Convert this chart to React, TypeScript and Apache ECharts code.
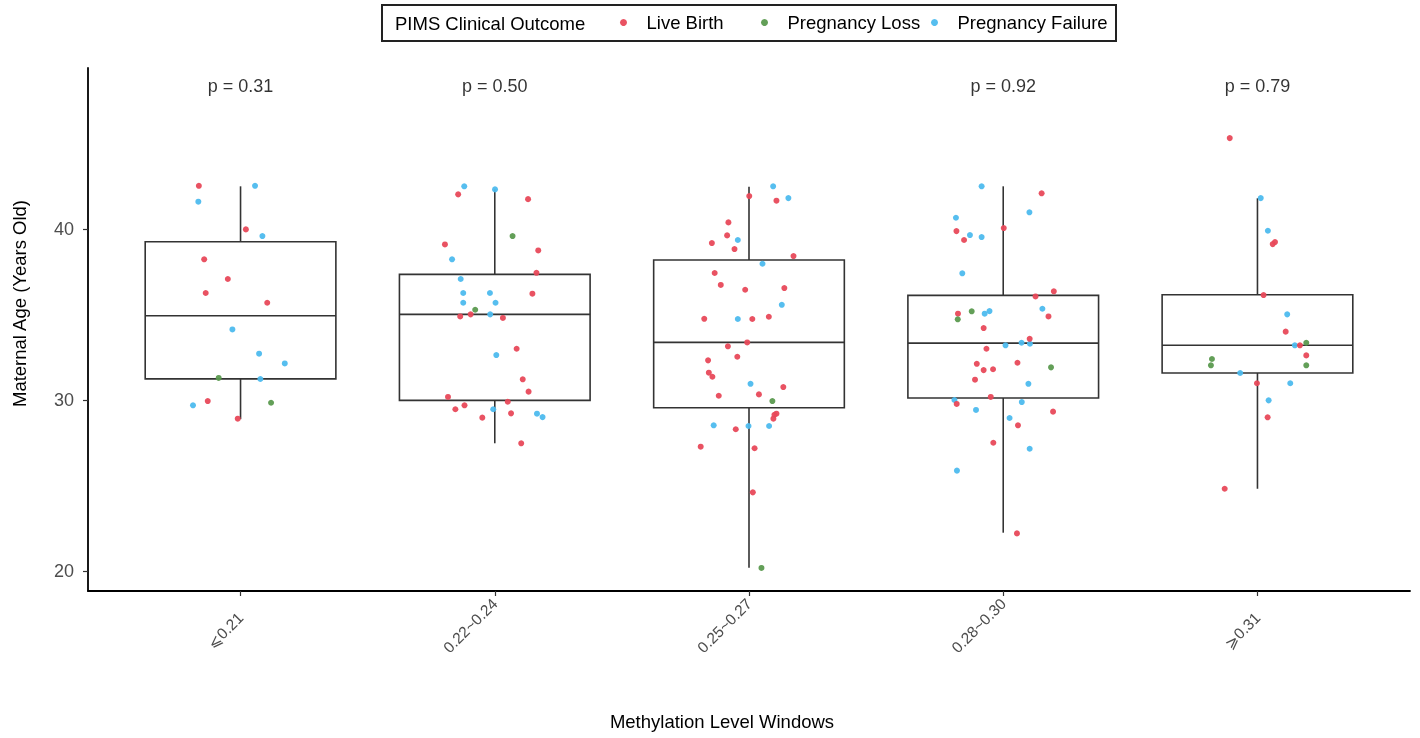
import React, { useEffect, useRef } from "react";
import * as echarts from "echarts";

const categories = ["⩽0.21", "0.22~0.24", "0.25~0.27", "0.28~0.30", "⩾0.31"];
const pValues = ["p = 0.31", "p = 0.50", "", "p = 0.92", "p = 0.79"];
const yTicks = [20, 30, 40];
const legendNames = ["Live Birth", "Pregnancy Loss", "Pregnancy Failure"];

const boxMin = [28.88, 27.47, 20.19, 22.24, 24.81];
const boxQ1 = [31.24, 29.98, 29.55, 30.12, 31.58];
const boxMedian = [34.93, 35.01, 33.37, 33.33, 33.2];
const boxQ3 = [39.26, 37.35, 38.19, 36.12, 36.16];
const boxMax = [42.5, 42.32, 42.47, 42.5, 41.8];

// [jittered x (category index units, 1..5), maternal age]
const liveBirth: [number, number][] = [
  [0.836, 42.53], [1.021, 39.98], [0.857, 38.23], [0.95, 37.08], [0.863, 36.26], [1.105, 35.69], [0.871, 29.94], [0.989, 28.91],
  [1.856, 42.03], [2.131, 41.75], [1.804, 39.1], [2.171, 38.75], [2.164, 37.44], [2.148, 36.22], [1.864, 34.89], [1.905, 35.01],
  [2.032, 34.8], [2.086, 33.0], [2.11, 31.21], [2.133, 30.49], [1.816, 30.18], [2.051, 29.9], [1.845, 29.46], [1.881, 29.69],
  [2.064, 29.22], [1.951, 28.97], [2.104, 27.47],
  [3.001, 41.93], [3.108, 41.66], [2.919, 40.39], [2.914, 39.63], [2.854, 39.18], [2.943, 38.83], [3.175, 38.42],
  [2.865, 37.43], [2.889, 36.73], [2.985, 36.45], [3.139, 36.55], [2.824, 34.75], [3.013, 34.74], [3.078, 34.87], [2.993, 33.37],
  [2.917, 33.14], [2.954, 32.53], [2.839, 32.32], [2.842, 31.6], [2.856, 31.36], [3.135, 30.76], [2.881, 30.25], [3.039, 30.33],
  [3.108, 29.2], [3.1, 29.14], [3.096, 28.91], [2.948, 28.29], [2.81, 27.27], [3.022, 27.18], [3.015, 24.6],
  [4.151, 42.09], [4.002, 40.06], [3.816, 39.88], [3.846, 39.36], [4.199, 36.36], [4.127, 36.06], [3.822, 35.05], [4.178, 34.89],
  [3.923, 34.21], [4.104, 33.58], [3.934, 33.0], [4.056, 32.18], [3.896, 32.12], [3.923, 31.75], [3.96, 31.8], [3.889, 31.19],
  [3.951, 30.18], [3.817, 29.77], [4.196, 29.32], [4.058, 28.52], [3.961, 27.5], [4.054, 22.2],
  [4.891, 45.32], [5.069, 39.24], [5.06, 39.12], [5.024, 36.14], [5.111, 34.0], [5.167, 33.2], [5.192, 32.61], [4.998, 30.98],
  [5.04, 28.99], [4.871, 24.81],
];
const pregnancyLoss: [number, number][] = [
  [0.914, 31.29], [1.12, 29.84],
  [2.07, 39.59], [1.923, 35.28],
  [3.092, 29.94], [3.049, 20.18],
  [3.876, 35.19], [3.821, 34.72], [4.188, 31.91],
  [5.192, 33.35], [4.821, 32.4], [4.817, 32.03], [5.192, 32.03],
];
const pregnancyFailure: [number, number][] = [
  [1.057, 42.53], [0.834, 41.6], [1.086, 39.59], [0.968, 34.13], [1.073, 32.71], [1.174, 32.14], [1.078, 31.23], [0.813, 29.69],
  [1.88, 42.5], [2.001, 42.32], [1.832, 38.23], [1.866, 37.08], [1.876, 36.26], [1.981, 36.26], [1.876, 35.69], [2.003, 35.69],
  [1.982, 35.01], [2.006, 32.63], [1.994, 29.46], [2.166, 29.2], [2.188, 29.0],
  [3.095, 42.5], [3.155, 41.81], [2.956, 39.36], [3.053, 37.97], [3.129, 35.57], [2.956, 34.74], [3.006, 30.95], [2.861, 28.52],
  [2.998, 28.48], [3.079, 28.48],
  [3.915, 42.5], [4.103, 40.98], [3.814, 40.66], [3.869, 39.65], [3.915, 39.53], [3.839, 37.41], [4.154, 35.34], [3.927, 35.05],
  [3.946, 35.2], [4.009, 33.2], [4.072, 33.35], [4.105, 33.29], [4.099, 30.95], [3.808, 30.0], [4.073, 29.88], [3.893, 29.42],
  [4.025, 28.95], [4.104, 27.15], [3.818, 25.87],
  [5.013, 41.81], [5.041, 39.9], [5.117, 35.01], [5.147, 33.2], [4.932, 31.58], [5.129, 30.98], [5.044, 29.98],
];

const pLabelY = 48.36;
const FONT = "'Liberation Sans', Arial, Helvetica, sans-serif";
const RED = "#E8495A";
const GREEN = "#5B9A4F";
const BLUE = "#4DBBEE";
const legendLeft = [615, 756, 926];

export default function App() {
  const ref = useRef<HTMLDivElement>(null);
  useEffect(() => {
    if (!ref.current) return;
    const chart = echarts.init(ref.current, undefined, { renderer: "svg" });
    const boxData = categories.map((_, i) => [i + 1, boxMin[i], boxQ1[i], boxMedian[i], boxQ3[i], boxMax[i]]);
    const pData = pValues.map((p, i) => ({ value: [i + 1, pLabelY], label: { formatter: p } }));
    const lineStyle = { stroke: "#333333", lineWidth: 1.6 };
    chart.setOption({
      animation: false,
      textStyle: { fontFamily: FONT },
      grid: { left: 88, right: 10, top: 68, bottom: 147, containLabel: false },
      legend: legendNames.map((n, i) => ({
        data: [n],
        left: legendLeft[i],
        top: 8,
        itemWidth: 36,
        itemHeight: 7,
        icon: "circle",
        selectedMode: false,
        textStyle: { fontSize: 18.5, color: "#000", fontFamily: FONT },
      })),
      graphic: [
        {
          type: "rect",
          shape: { x: 382, y: 5, width: 734, height: 36 },
          style: { fill: "none", stroke: "#222", lineWidth: 2 },
        },
        {
          type: "text",
          x: 395,
          y: 23,
          style: { text: "PIMS Clinical Outcome", fontSize: 18.5, fill: "#000", fontFamily: FONT, verticalAlign: "middle" },
        },
      ],
      xAxis: {
        type: "value",
        min: 0.4,
        max: 5.6,
        name: "Methylation Level Windows",
        nameLocation: "middle",
        nameGap: 121,
        nameTextStyle: { fontSize: 18.5, color: "#000", fontFamily: FONT, padding: [0, 54, 0, 0] },
        splitLine: { show: false },
        axisLine: { show: true, onZero: false, lineStyle: { color: "#000", width: 1.8 } },
        axisTick: { show: true, customValues: [1, 2, 3, 4, 5], length: 5, lineStyle: { color: "#333", width: 1.2 } },
        axisLabel: {
          customValues: [1, 2, 3, 4, 5],
          formatter: (v: number) => {
            const i = Math.round(v) - 1;
            const t = categories[i] ?? "";
            return i === 0 || i === 4 ? "{s|" + t + "}" : t;
          },
          rich: { s: { padding: [20, 10, 0, 0], fontSize: 15.5, color: "#4D4D4D", fontFamily: FONT } },
          rotate: 45,
          fontSize: 15.5,
          color: "#4D4D4D",
          margin: 10,
          fontFamily: FONT,
        },
      },
      yAxis: {
        type: "value",
        min: 18.83,
        max: 49.42,
        name: "Maternal Age (Years Old)",
        nameLocation: "middle",
        nameGap: 59,
        nameTextStyle: { fontSize: 18.5, color: "#000", fontFamily: FONT, padding: [0, 0, 0, 52] },
        splitLine: { show: false },
        axisLine: { show: true, onZero: false, lineStyle: { color: "#000", width: 1.8 } },
        axisTick: { show: true, customValues: yTicks, length: 5, lineStyle: { color: "#333", width: 1.2 } },
        axisLabel: { customValues: yTicks, fontSize: 18, color: "#4D4D4D", margin: 14, fontFamily: FONT },
      },
      series: [
        {
          type: "custom",
          name: "box",
          data: boxData,
          encode: { x: 0, y: [1, 2, 3, 4, 5] },
          renderItem: (params: any, api: any) => {
            const x = api.value(0);
            const half = api.size([0.75, 0])[0] / 2;
            const pMin = api.coord([x, api.value(1)]);
            const pQ1 = api.coord([x, api.value(2)]);
            const pMed = api.coord([x, api.value(3)]);
            const pQ3 = api.coord([x, api.value(4)]);
            const pMax = api.coord([x, api.value(5)]);
            const cx = pMed[0];
            return {
              type: "group",
              children: [
                { type: "line", shape: { x1: cx, y1: pMax[1], x2: cx, y2: pQ3[1] }, style: lineStyle },
                { type: "line", shape: { x1: cx, y1: pQ1[1], x2: cx, y2: pMin[1] }, style: lineStyle },
                {
                  type: "rect",
                  shape: { x: cx - half, y: pQ3[1], width: half * 2, height: pQ1[1] - pQ3[1] },
                  style: { fill: "#fff", stroke: "#333333", lineWidth: 1.6 },
                },
                { type: "line", shape: { x1: cx - half, y1: pMed[1], x2: cx + half, y2: pMed[1] }, style: lineStyle },
              ],
            };
          },
          z: 1,
        },
        {
          type: "scatter",
          name: "Pregnancy Failure",
          data: pregnancyFailure,
          symbolSize: 6,
          itemStyle: { color: BLUE, opacity: 0.95 },
          z: 3,
        },
        {
          type: "scatter",
          name: "Live Birth",
          data: liveBirth,
          symbolSize: 6,
          itemStyle: { color: RED, opacity: 0.95 },
          z: 4,
        },
        {
          type: "scatter",
          name: "Pregnancy Loss",
          data: pregnancyLoss,
          symbolSize: 6,
          itemStyle: { color: GREEN, opacity: 0.95 },
          z: 5,
        },
        {
          type: "scatter",
          name: "pvalues",
          data: pData,
          symbolSize: 0,
          silent: true,
          label: { show: true, position: "inside", fontSize: 18, color: "#000", fontFamily: FONT },
          z: 6,
        },
      ],
    });
    return () => chart.dispose();
  }, []);
  return <div ref={ref} style={{ position: "fixed", left: 0, top: 0, width: 1420, height: 738 }} />;
}
